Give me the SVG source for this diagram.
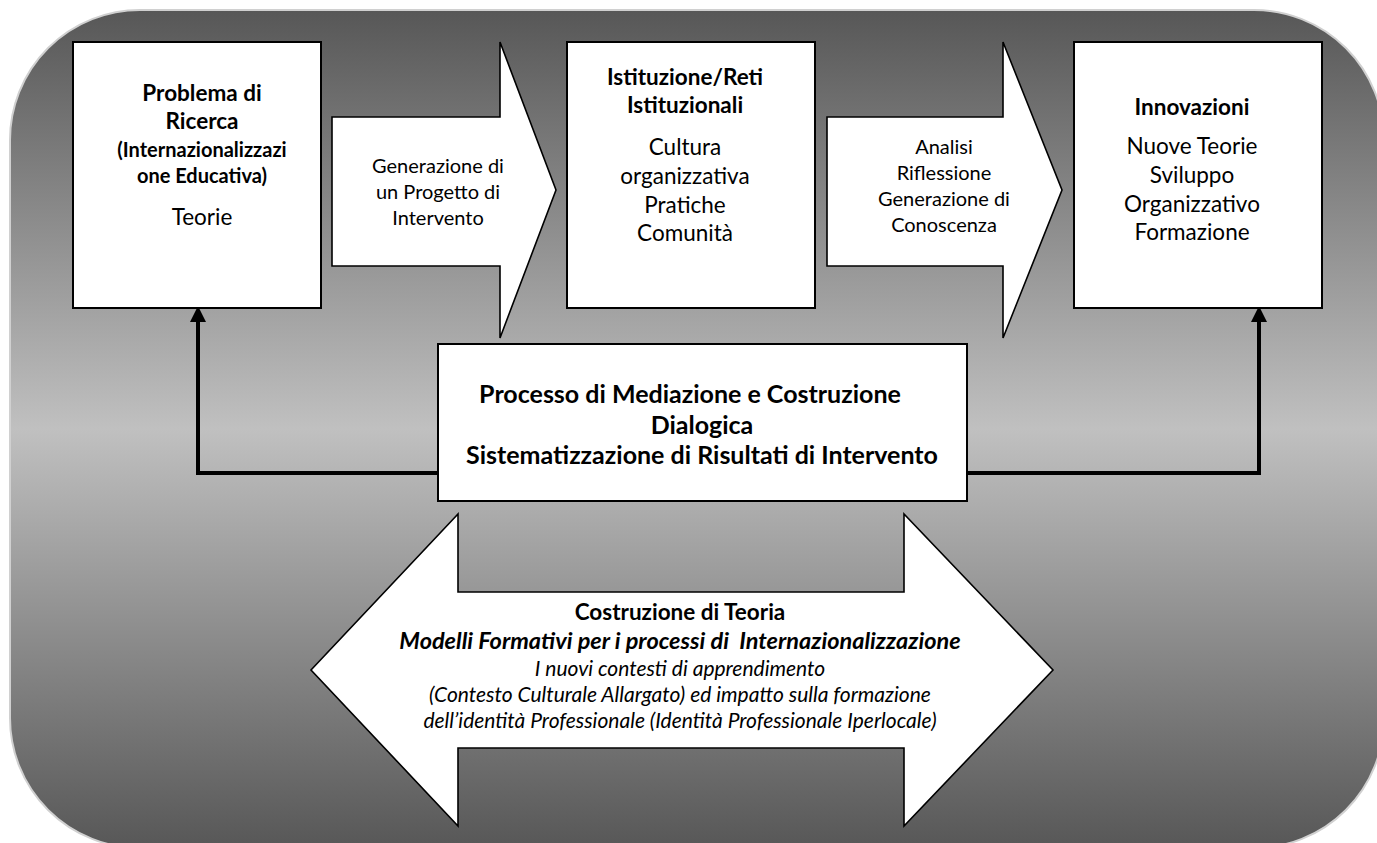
<svg xmlns="http://www.w3.org/2000/svg" width="1377" height="843" viewBox="0 0 1377 843">
  <defs>
    <linearGradient id="bgShade" gradientUnits="userSpaceOnUse" x1="0" y1="10" x2="0" y2="848">
      <stop offset="0" stop-color="#575757"/>
      <stop offset="0.5" stop-color="#c0c0c0"/>
      <stop offset="1" stop-color="#575757"/>
    </linearGradient>
    <marker id="arrowHead" markerUnits="userSpaceOnUse" markerWidth="16" markerHeight="16" viewBox="0 0 16 16" refX="2" refY="8" orient="auto">
      <path d="M0,0 L16,8 L0,16 Z" fill="#000"/>
    </marker>
  </defs>
  <style>
    .box { fill: #fff; stroke: #000; stroke-width: 2; }
    .blk { fill: #fff; stroke: #000; stroke-width: 1.6; stroke-linejoin: miter; }
    .conn { fill: none; stroke: #000; stroke-width: 4; }
    text { font-family: Lato, "Liberation Sans", sans-serif; fill: #000; text-anchor: middle; }
    .h { font-weight: bold; font-size: 22.5px; }
    .hs { font-weight: bold; font-size: 20px; }
    .t { font-size: 22.5px; }
    .s { font-size: 20px; }
    .c { font-weight: bold; font-size: 25px; }
    .d { font-size: 21px; }
    .db { font-weight: bold; font-size: 22.5px; }
    .bi { font-weight: bold; font-style: italic; font-size: 23.5px; }
    .it { font-style: italic; }
  </style>

  <!-- shaded rounded panel -->
  <rect x="10" y="10" width="1374" height="838" rx="130" ry="130" fill="url(#bgShade)" stroke="#d0d0d0" stroke-width="2"/>

  <!-- connectors from the mediation box up to the two outer boxes -->
  <g id="connectors">
    <polyline class="conn" points="440,473 198,473 198,320" marker-end="url(#arrowHead)"/>
    <polyline class="conn" points="965,473 1259,473 1259,320" marker-end="url(#arrowHead)"/>
  </g>

  <g id="problema">
    <rect class="box" x="73" y="42" width="248" height="266"/>
    <text class="h" x="202" y="101">Problema di</text>
    <text class="h" x="202" y="129">Ricerca</text>
    <text class="hs" x="202" y="157">(Internazionalizzazi</text>
    <text class="hs" x="202" y="183">one Educativa)</text>
    <text class="t" x="202" y="225">Teorie</text>
  </g>

  <g id="generazione">
    <polygon class="blk" points="332,117 500,117 500,42 556,190 500,338 500,266 332,266"/>
    <text class="s" x="438" y="173">Generazione di</text>
    <text class="s" x="438" y="199">un Progetto di</text>
    <text class="s" x="438" y="225">Intervento</text>
  </g>

  <g id="istituzione">
    <rect class="box" x="567" y="42" width="248" height="266"/>
    <text class="h" x="685" y="85">Istituzione/Reti</text>
    <text class="h" x="685" y="113">Istituzionali</text>
    <text class="t" x="685" y="155">Cultura</text>
    <text class="t" x="685" y="184">organizzativa</text>
    <text class="t" x="685" y="213">Pratiche</text>
    <text class="t" x="685" y="241">Comunità</text>
  </g>

  <g id="analisi">
    <polygon class="blk" points="827,117 1003,117 1003,42 1062,190 1003,338 1003,266 827,266"/>
    <text class="s" x="944" y="154">Analisi</text>
    <text class="s" x="944" y="180">Riflessione</text>
    <text class="s" x="944" y="206">Generazione di</text>
    <text class="s" x="944" y="232">Conoscenza</text>
  </g>

  <g id="innovazioni">
    <rect class="box" x="1074" y="42" width="248" height="266"/>
    <text class="h" x="1192" y="115">Innovazioni</text>
    <text class="t" x="1192" y="154">Nuove Teorie</text>
    <text class="t" x="1192" y="183">Sviluppo</text>
    <text class="t" x="1192" y="212">Organizzativo</text>
    <text class="t" x="1192" y="240">Formazione</text>
  </g>

  <g id="mediazione">
    <rect class="box" x="438" y="344" width="529" height="157"/>
    <text class="c" x="690" y="403">Processo di Mediazione e Costruzione</text>
    <text class="c" x="702" y="434">Dialogica</text>
    <text class="c" x="702" y="464">Sistematizzazione di Risultati di Intervento</text>
  </g>

  <g id="teoria">
    <polygon class="blk" points="311,670 458,514 458,592 904,592 904,514 1053,670 904,826 904,748 458,748 458,826"/>
    <text class="db" x="680" y="620">Costruzione di Teoria</text>
    <text class="bi" x="680" y="649" xml:space="preserve">Modelli Formativi per i processi di  Internazionalizzazione</text>
    <text class="d it" x="680" y="676">I nuovi contesti di apprendimento</text>
    <text class="d it" x="680" y="702">(Contesto Culturale Allargato) ed impatto sulla formazione</text>
    <text class="d it" x="680" y="728">dell’identità Professionale (Identità Professionale Iperlocale)</text>
  </g>
</svg>
